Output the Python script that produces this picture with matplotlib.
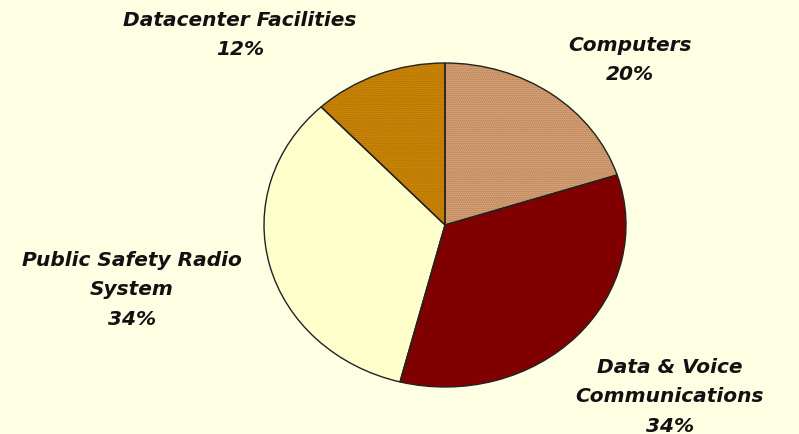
import matplotlib
matplotlib.use("Agg")
import matplotlib.pyplot as plt

labels = ["Computers", "Data & Voice\nCommunications", "Public Safety Radio\nSystem", "Datacenter Facilities"]
values = [20, 34, 34, 12]
colors = ["#E8B890", "#800000", "#FFFFCC", "#E0960A"]
hatch_colors = ["#A86E40", "#800000", "#FFFFCC", "#A06400"]
hatches = ["........", None, None, "........"]

W, H = 799, 435
fig = plt.figure(figsize=(W / 100, H / 100), dpi=100)
fig.patch.set_facecolor("#FFFFE3")

# pie axes (elliptical pie as in the reference)
cx, cy, rx, ry = 445, 226, 181, 162
ax = fig.add_axes([(cx - rx) / W, 1 - (cy + ry) / H, 2 * rx / W, 2 * ry / H])
ax.set_facecolor("none")
wedges, _ = ax.pie(values, colors=colors, startangle=90, counterclock=False,
                   wedgeprops=dict(linewidth=0))
for w, hc, h in zip(wedges, hatch_colors, hatches):
    if h:
        w.set_hatch(h)
        w.set_edgecolor(hc)
        w.set_linewidth(0)
ax.pie(values, colors=["none"] * 4, startangle=90, counterclock=False,
       wedgeprops=dict(linewidth=1.0, edgecolor="#222222", fill=False))
ax.set_aspect("auto")
ax.set_xlim(-1, 1)
ax.set_ylim(-1, 1)
ax.axis("off")

# label overlay in pixel coordinates
tx = fig.add_axes([0, 0, 1, 1])
tx.set_xlim(0, W)
tx.set_ylim(H, 0)
tx.axis("off")
tx.set_facecolor("none")

label_pos = [(630, 60), (670, 397), (132, 290), (240, 35)]
for lab, v, (x, y) in zip(labels, values, label_pos):
    tx.text(x, y, f"{lab}\n{v}%", ha="center", va="center", fontsize=14.5,
            fontweight="bold", fontstyle="italic", color="#111111",
            linespacing=1.72, family="DejaVu Sans")

fig.savefig("out.png", dpi=100, facecolor=fig.get_facecolor())
